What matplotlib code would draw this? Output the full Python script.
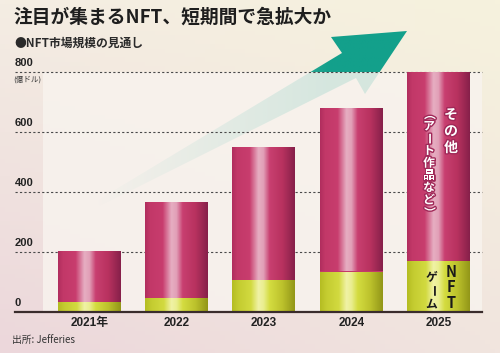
import numpy as np
import matplotlib
matplotlib.use('Agg')
import matplotlib.pyplot as plt
from matplotlib.colors import LinearSegmentedColormap, to_rgb
from matplotlib.patches import Polygon
import matplotlib.patheffects as pe

plt.rcParams['font.family'] = ['Noto Sans CJK JP', 'DejaVu Sans']

# data (100 million USD)
years = ['2021年', '2022', '2023', '2024', '2025']
nft_game = [33, 47, 107, 135, 170]
other = [170, 320, 443, 545, 630]
yticks = [0, 200, 400, 600, 800]

W, H = 500, 353
fig = plt.figure(figsize=(5, 3.53), dpi=100)

def fx(x):
    return x / W

def fy(y):
    return 1 - y / H

# background gradient
bg = fig.add_axes([0, 0, 1, 1], zorder=0)
bg.set_axis_off()
c_tl = np.array(to_rgb('#f4ede3'))
c_tr = np.array(to_rgb('#f6f2dd'))
c_bl = np.array(to_rgb('#ecd7db'))
c_br = np.array(to_rgb('#f1e5df'))
u = np.linspace(0, 1, 100)[None, :, None]
v = np.linspace(0, 1, 80)[:, None, None]
img = (c_tl * (1 - u) + c_tr * u) * (1 - v) + (c_bl * (1 - u) + c_br * u) * v
bg.imshow(img, extent=[0, W, H, 0], aspect='auto')
bg.set_xlim(0, W)
bg.set_ylim(H, 0)

# arrow (decoration), faded towards the tail
arrow = Polygon([(93, 203), (342, 53), (331, 37), (407, 31), (365, 94), (356, 78), (100, 206)],
                closed=True, facecolor='none', edgecolor='none')
bg.add_patch(arrow)
teal = to_rgb('#13a08b')
grad = np.zeros((10, 200, 4))
grad[..., :3] = teal
a = np.clip(np.linspace(0, 1, 200) / 0.75, 0, 1) ** 0.9
grad[..., 3] = a[None, :]
im = bg.imshow(grad, extent=[93, 407, 210, 30], aspect='auto', zorder=2)
im.set_clip_path(arrow)

ax = fig.add_axes([fx(43), fy(312), fx(482) - fx(43), fy(72) - fy(312)], zorder=1)
ax.set_facecolor('#f8f3ee')
ax.patch.set_alpha(0.85)
for s in ax.spines.values():
    s.set_visible(False)
ax.set_xticks([])
ax.set_yticks([])

# gridlines extending to the left margin
x_left = (15 - 43) / (482 - 43)
for t in yticks[1:]:
    ax.plot([x_left, 1.0], [t, t], transform=ax.get_yaxis_transform(), clip_on=False,
            color='#4a4a4a', lw=0.8, ls=(0, (2, 2)), zorder=1)
ax.plot([x_left, 1.0], [0, 0], transform=ax.get_yaxis_transform(), clip_on=False,
        color='#3a2c2c', lw=1.6, zorder=5)

for t in yticks:
    ax.text(x_left, t + 30, str(t), transform=ax.get_yaxis_transform(), ha='left', va='center',
            fontsize=8, fontweight='bold', color='#222222', family=['Liberation Sans', 'DejaVu Sans'])
ax.text(x_left - 0.003, 800 - 25, '(億ドル)', transform=ax.get_yaxis_transform(), ha='left', va='center',
        fontsize=5.5, color='#333333')

x = np.arange(len(years))
bw = 0.722

mag = LinearSegmentedColormap.from_list('mag', [
    (0.0, '#b02d5e'), (0.08, '#c23868'), (0.28, '#c83d6e'), (0.42, '#e6aec2'),
    (0.5, '#e2a0b8'), (0.6, '#c83f70'), (0.8, '#b8325f'), (1.0, '#86204a')])
grn = LinearSegmentedColormap.from_list('grn', [
    (0.0, '#b4bc22'), (0.1, '#c4cc30'), (0.3, '#d2da40'), (0.42, '#f0f2a6'),
    (0.5, '#eaee90'), (0.6, '#d4dc40'), (0.8, '#bcc22c'), (1.0, '#929618')])
gline = np.linspace(0, 1, 256)[None, :]

b1 = ax.bar(x, nft_game, bw, color='#cdd43a', zorder=3)
b2 = ax.bar(x, other, bw, bottom=nft_game, color='#c33a6a', zorder=3)
for bars, cm in [(b1, grn), (b2, mag)]:
    for p in bars:
        x0, y0 = p.get_x(), p.get_y()
        gi = ax.imshow(gline, cmap=cm, extent=[x0, x0 + p.get_width(), y0, y0 + p.get_height()],
                       aspect='auto', zorder=4)
        gi.set_clip_path(p)
ax.set_xlim(-0.533, 4.499)
ax.set_ylim(0, 800)

for xi, lab in zip(x, years):
    ax.text(xi, -36, lab, ha='center', va='center', fontsize=8.5, fontweight='bold', color='#222222',
            family=['Liberation Sans', 'Noto Sans CJK JP'])

# vertical labels inside the 2025 bar
def vtext(px, py0, step, chars, size, color, outline=None, rot=()):
    for i, ch in enumerate(chars):
        kw = {}
        if outline:
            kw['path_effects'] = [pe.withStroke(linewidth=2, foreground=outline)]
        fig.text(fx(px), fy(py0 + i * step), ch, ha='center', va='center', fontsize=size,
                 color=color, fontweight='bold', rotation=-90 if i in rot else 0, zorder=10, **kw)

vtext(451, 115, 16.5, 'その他', 10, 'white', '#a02858')
vtext(429, 114, 12.3, '（アート作品など）', 8.5, 'white', '#a02858', rot=(0, 2, 8))
vtext(451, 272, 15.5, 'NFT', 10.5, '#1a1a1a')
vtext(431, 278, 13, 'ゲーム', 8.5, '#1a1a1a', rot=(1,))

fig.text(fx(14), fy(17), '注目が集まるNFT、短期間で急拡大か', ha='left', va='center',
         fontsize=13.5, fontweight='bold', color='#1e1e1e')
fig.text(fx(14), fy(43), '●NFT市場規模の見通し', ha='left', va='center',
         fontsize=8.5, fontweight='bold', color='#2a2a2a')
fig.text(fx(12), fy(340), '出所: Jefferies', ha='left', va='center', fontsize=7, color='#333333')

fig.savefig('out.png', dpi=100)
